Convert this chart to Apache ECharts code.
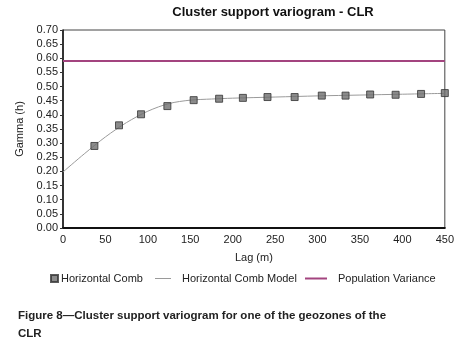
<!DOCTYPE html>
<html>
<head>
<meta charset="utf-8">
<script src="https://cdn.jsdelivr.net/npm/echarts@6/dist/echarts.min.js"></script>
<style>
  html, body { margin: 0; padding: 0; background: #fff; }
  #chart { width: 457px; height: 353px; }
</style>
</head>
<body>
<div id="chart"></div>
<script>
// experimental points (lag, gamma)
const combLag = [37, 66, 92, 123, 154, 184, 212, 241, 273, 305, 333, 362, 392, 422, 450]
const combGamma = [0.290, 0.363, 0.402, 0.431, 0.452, 0.457, 0.460, 0.463, 0.463, 0.468, 0.468, 0.472, 0.471, 0.474, 0.477]

// fitted model
const modelLag = [0, 25, 50, 75, 100, 125, 150, 175, 200, 250, 300, 350, 400, 450]
const modelGamma = [0.198, 0.262, 0.322, 0.373, 0.413, 0.440, 0.452, 0.456, 0.459, 0.463, 0.467, 0.470, 0.473, 0.476]

const popVariance = 0.59
const xTicks = [0, 450, 50]
const yTicks = [0, 0.7, 0.05]

const font = 'Liberation Sans, Arial, sans-serif'
const square = 'path://M0,0L1,0L1,1L0,1Z'

let myChart = echarts.init(document.getElementById('chart'))
myChart.setOption({
  animation: false,
  title: [{
    text: 'Cluster support variogram - CLR',
    left: 268,
    top: 1,
    textAlign: 'center',
    textStyle: { fontFamily: font, fontSize: 13, fontWeight: 'bold', color: '#111' }
  }, {
    text: 'Figure 8\u2014Cluster support variogram for one of the geozones of the\nCLR',
    left: 13,
    top: 302,
    textStyle: { fontFamily: font, fontSize: 11.5, fontWeight: 'bold', color: '#222', lineHeight: 18 }
  }],
  grid: {
    left: 63,
    right: 7,
    top: 30,
    bottom: 125,
    show: true,
    borderColor: '#444',
    borderWidth: 1
  },
  legend: [{
    data: [{ name: 'Horizontal Comb', icon: square }],
    left: 45,
    top: 268,
    itemWidth: 7,
    itemHeight: 7,
    itemGap: 0,
    textStyle: { fontFamily: font, fontSize: 11, color: '#222', padding: [0, 0, 0, -2] }
  }, {
    data: [{ name: 'Horizontal Comb Model', icon: 'rect' }],
    left: 150,
    top: 268,
    itemWidth: 16,
    itemHeight: 1,
    textStyle: { fontFamily: font, fontSize: 11, color: '#222', padding: [0, 0, 0, 6] }
  }, {
    data: [{ name: 'Population Variance', icon: 'rect' }],
    left: 300,
    top: 268,
    itemWidth: 22,
    itemHeight: 2,
    textStyle: { fontFamily: font, fontSize: 11, color: '#222', padding: [0, 0, 0, 6] }
  }],
  xAxis: {
    type: 'value',
    min: xTicks[0],
    max: xTicks[1],
    interval: xTicks[2],
    name: 'Lag (m)',
    nameLocation: 'middle',
    nameGap: 24,
    nameTextStyle: { fontFamily: font, fontSize: 11, color: '#222' },
    axisLabel: { fontFamily: font, fontSize: 11, color: '#222', margin: 6 },
    axisTick: { show: false },
    axisLine: { show: true, lineStyle: { color: '#111', width: 2 } },
    splitLine: { show: false }
  },
  yAxis: {
    type: 'value',
    min: yTicks[0],
    max: yTicks[1],
    interval: yTicks[2],
    name: 'Gamma (h)',
    nameLocation: 'middle',
    nameGap: 38,
    nameTextStyle: { fontFamily: font, fontSize: 11, color: '#222' },
    axisLabel: {
      fontFamily: font, fontSize: 11, color: '#222', margin: 5,
      formatter: v => v.toFixed(2)
    },
    axisTick: { show: true, length: 3, lineStyle: { color: '#333' } },
    axisLine: { show: true, lineStyle: { color: '#111', width: 1.5 } },
    splitLine: { show: false }
  },
  series: [{
    name: 'Horizontal Comb',
    type: 'scatter',
    symbol: 'rect',
    symbolSize: 7,
    z: 3,
    itemStyle: { color: '#6e6e6e', borderColor: '#333', borderWidth: 1 },
    data: combLag.map((x, i) => [x, combGamma[i]])
  }, {
    name: 'Horizontal Comb Model',
    type: 'line',
    smooth: 0.3,
    showSymbol: false,
    symbol: 'none',
    z: 2,
    itemStyle: { color: '#9a9a9a' },
    lineStyle: { color: '#9a9a9a', width: 1 },
    data: modelLag.map((x, i) => [x, modelGamma[i]])
  }, {
    name: 'Population Variance',
    type: 'line',
    symbol: 'none',
    z: 1,
    itemStyle: { color: '#a3447f' },
    lineStyle: { color: '#a3447f', width: 2 },
    data: [[xTicks[0], popVariance], [xTicks[1], popVariance]]
  }]
})
</script>
</body>
</html>
